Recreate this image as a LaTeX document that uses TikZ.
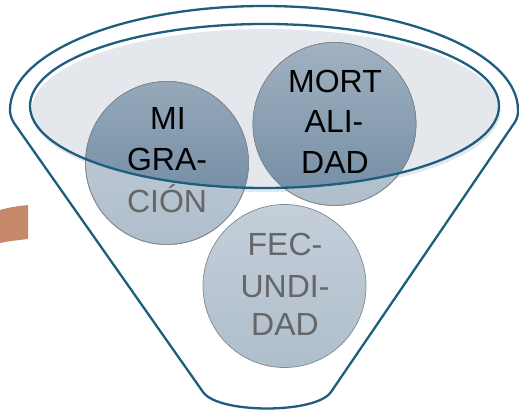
\documentclass[tikz,border=0pt]{standalone}
\usepackage{fontspec}
\setmainfont{Liberation Sans}
\begin{document}
\begin{tikzpicture}[x=1pt,y=-1pt,
  funnelline/.style={draw=funnelblue, line width=2.3pt, line join=round},
  ball/.style={circle, minimum size=163pt, inner sep=0pt, draw=ballrim, line width=0.7pt,
    top color=balltop, bottom color=ballbottom},
  word/.style={anchor=base, inner sep=0pt, font=\fontsize{32}{41}\selectfont},
  dark/.style={word, text=black},
  pale/.style={word, text=palegray}]
\definecolor{funnelblue}{HTML}{1D5E7E}
\definecolor{rimfill}{HTML}{E4E8ED}
\definecolor{ballrim}{HTML}{808890}
\definecolor{balltop}{HTML}{C4CFDA}
\definecolor{ballbottom}{HTML}{AFBECB}
\definecolor{deeptop}{HTML}{A6B6C5}
\definecolor{deepbottom}{HTML}{7790A6}
\definecolor{palegray}{HTML}{666666}
\definecolor{clay}{HTML}{C6886A}

% canvas
\useasboundingbox (0,0) rectangle (519,414);
\fill[white] (0,0) rectangle (519,414);

% piece of a ring peeking in at the left edge
\fill[clay] (0,210) .. controls (10,207) and (19,206) .. (28,205) -- (28,239)
  .. controls (19,240) and (10,241) .. (0,243) -- cycle;

% funnel body
\draw[funnelline] (14,123) -- (203,392)
  .. controls (218,414) and (316,414) .. (331,392)
  -- (515,122)
  .. controls (518,117) and (518,113) .. (518,110)
  .. controls (518,52.6) and (404.3,6) .. (264,6)
  .. controls (123.7,6) and (10,52.6) .. (10,110)
  .. controls (10,114) and (11,118) .. cycle;

% mouth of the funnel
\fill[rimfill] (266,110.5) ellipse [x radius=234.5, y radius=81.5];

% the three balls
\node[ball] (mig) at (167,163) {};
\node[ball] (mort) at (334.5,124) {};
\node[ball] (fec) at (284.5,286) {};

% darker part of the balls inside the mouth
\begin{scope}
  \clip (264.5,106) ellipse [x radius=234.5, y radius=82];
  \clip (mig.center) circle [radius=81.5] (mort.center) circle [radius=81.5];
  \fill[top color=deeptop, bottom color=deepbottom] (30,24) rectangle (500,188);
\end{scope}
\draw[draw=ballrim, line width=0.7pt] (mig.center) circle [radius=81.5]
  (mort.center) circle [radius=81.5];

% rim of the mouth
\draw[funnelline] (264.5,106) ellipse [x radius=234.5, y radius=82];

% labels
\node[dark] (mig1) at (168,130) {MI};
\node[dark] (mig2) at (167,171) {GRA-};
\node[pale] (mig3) at (167,212) {CIÓN};
\node[dark] (mort1) at (335,93) {MORT};
\node[dark] (mort2) at (334,133) {ALI-};
\node[dark] (mort3) at (335,174) {DAD};
\node[pale] (fec1) at (285,255) {FEC-};
\node[pale] (fec2) at (285,297) {UNDI-};
\node[pale] (fec3) at (285,335) {DAD};
\end{tikzpicture}
\end{document}
